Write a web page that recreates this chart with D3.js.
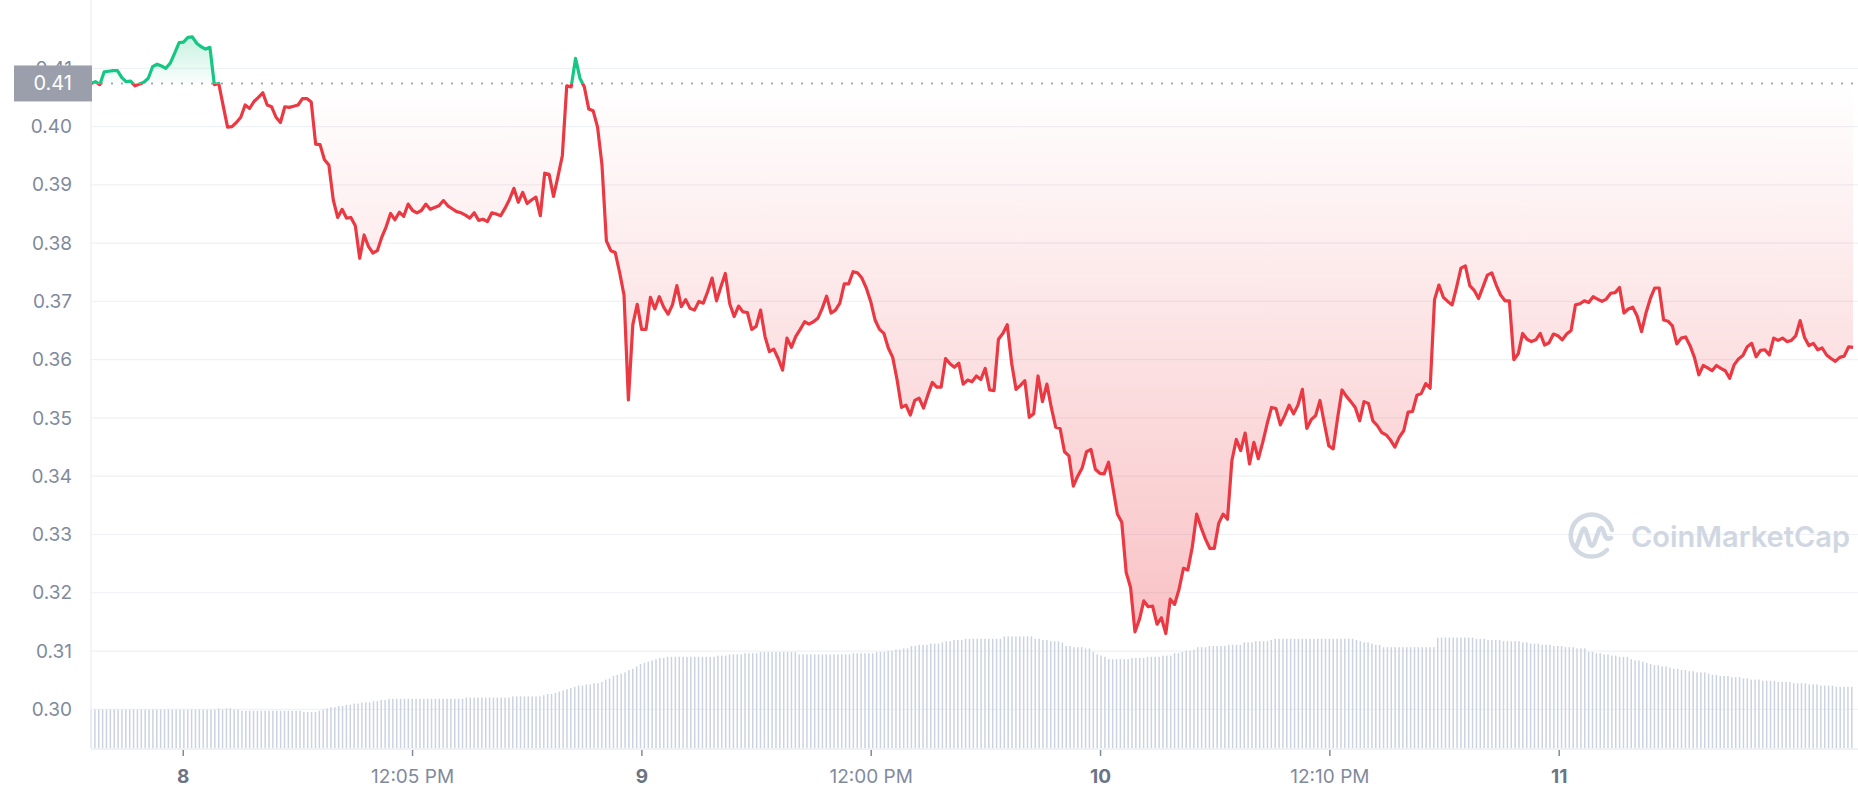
<!DOCTYPE html>
<html><head><meta charset="utf-8">
<script src="https://cdn.jsdelivr.net/npm/d3@7"></script>
<style>html,body{margin:0;padding:0;background:#fff;}svg{display:block;font-family:Inter,"Noto Sans",sans-serif;}</style>
</head><body><svg id="chart" width="1858" height="800"></svg>
<script>
// ---- data ----
// price samples, evenly spaced in time starting at priceStartHour (hours relative to day 8 00:00)
const priceStartHour = -4.8;
const priceStepMin = 13.83;
const prices = [
0.4074,0.4077,0.4072,0.4094,0.4095,0.4096,0.4096,0.4084,0.4077,0.4078,
0.4070,0.4073,0.4076,0.4083,0.4103,0.4107,0.4104,0.4100,0.4109,0.4126,
0.4144,0.4145,0.4153,0.4154,0.4143,0.4137,0.4133,0.4136,0.4072,0.4074,
0.4036,0.3999,0.4000,0.4007,0.4016,0.4037,0.4031,0.4043,0.4050,0.4058,
0.4037,0.4034,0.4016,0.4007,0.4034,0.4033,0.4035,0.4037,0.4048,0.4048,
0.4042,0.3970,0.3969,0.3943,0.3934,0.3874,0.3844,0.3858,0.3843,0.3844,
0.3830,0.3774,0.3814,0.3794,0.3783,0.3787,0.3810,0.3828,0.3851,0.3840,
0.3853,0.3846,0.3867,0.3856,0.3852,0.3856,0.3867,0.3858,0.3861,0.3864,
0.3873,0.3864,0.3859,0.3854,0.3852,0.3848,0.3843,0.3852,0.3839,0.3841,
0.3837,0.3852,0.3850,0.3847,0.3860,0.3875,0.3894,0.3870,0.3887,0.3868,
0.3874,0.3879,0.3847,0.3920,0.3918,0.3880,0.3914,0.3950,0.4070,0.4068,
0.4117,0.4083,0.4068,0.4030,0.4027,0.3999,0.3934,0.3804,0.3787,0.3784,
0.3750,0.3711,0.3531,0.3660,0.3695,0.3652,0.3652,0.3707,0.3687,0.3708,
0.3690,0.3678,0.3694,0.3727,0.3691,0.3703,0.3688,0.3685,0.3700,0.3697,
0.3717,0.3740,0.3701,0.3725,0.3748,0.3696,0.3674,0.3692,0.3682,0.3681,
0.3652,0.3657,0.3685,0.3640,0.3614,0.3618,0.3602,0.3582,0.3637,0.3621,
0.3640,0.3652,0.3665,0.3661,0.3665,0.3671,0.3688,0.3709,0.3680,0.3685,
0.3697,0.3730,0.3730,0.3751,0.3749,0.3740,0.3723,0.3700,0.3668,0.3652,
0.3645,0.3620,0.3604,0.3565,0.3518,0.3522,0.3505,0.3530,0.3534,0.3517,
0.3540,0.3561,0.3553,0.3553,0.3602,0.3593,0.3587,0.3594,0.3558,0.3565,
0.3562,0.3572,0.3566,0.3585,0.3548,0.3547,0.3635,0.3645,0.3660,0.3594,
0.3549,0.3556,0.3564,0.3501,0.3507,0.3572,0.3528,0.3558,0.3518,0.3484,
0.3482,0.3442,0.3435,0.3383,0.3400,0.3414,0.3442,0.3446,0.3412,0.3405,
0.3404,0.3424,0.3380,0.3335,0.3321,0.3235,0.3209,0.3133,0.3154,0.3186,
0.3176,0.3177,0.3146,0.3157,0.3130,0.3189,0.3180,0.3206,0.3242,0.3239,
0.3278,0.3335,0.3312,0.3292,0.3276,0.3276,0.3319,0.3335,0.3326,0.3427,
0.3463,0.3444,0.3474,0.3421,0.3458,0.3430,0.3458,0.3490,0.3518,0.3516,
0.3488,0.3504,0.3522,0.3507,0.3522,0.3549,0.3482,0.3497,0.3504,0.3530,
0.3490,0.3452,0.3447,0.3500,0.3548,0.3537,0.3528,0.3518,0.3495,0.3528,
0.3525,0.3495,0.3487,0.3475,0.3471,0.3462,0.3450,0.3467,0.3478,0.3510,
0.3511,0.3539,0.3542,0.3559,0.3551,0.3703,0.3728,0.3707,0.3700,0.3694,
0.3724,0.3757,0.3761,0.3727,0.3719,0.3705,0.3725,0.3745,0.3749,0.3728,
0.3711,0.3701,0.3701,0.3600,0.3610,0.3645,0.3635,0.3631,0.3634,0.3645,
0.3625,0.3629,0.3644,0.3641,0.3634,0.3644,0.3650,0.3694,0.3696,0.3701,
0.3698,0.3708,0.3704,0.3700,0.3704,0.3714,0.3715,0.3724,0.3680,0.3687,
0.3690,0.3675,0.3648,0.3680,0.3705,0.3723,0.3723,0.3668,0.3666,0.3658,
0.3627,0.3637,0.3639,0.3624,0.3604,0.3574,0.3590,0.3586,0.3581,0.3590,
0.3585,0.3581,0.3568,0.3591,0.3601,0.3607,0.3622,0.3628,0.3605,0.3616,
0.3617,0.3608,0.3637,0.3633,0.3637,0.3631,0.3633,0.3641,0.3667,0.3638,
0.3624,0.3628,0.3617,0.3620,0.3608,0.3602,0.3597,0.3604,0.3606,0.3622,
0.3621
];
// volume bars (relative units), evenly spaced in time
const volumeStartHour = -4.8;
const volumeStepMin = 12.15;
const volumes = [
32,32,32,32,32,32,32,32,32,32,32,32,32,32,32,32,32,32,32,32,32,32,32,32,32,32,32,32,32,32,32,32,32,
33,32,33,33,32,32,31,
31,31,31,31,31,31,31,31,31,31,31,31,31,31,31,
30,30,30,30,
31,32,33,34,34,
35,35,36,36,37,37,38,38,38,39,39,40,40,
41,41,41,41,41,41,41,41,41,41,41,41,41,41,41,41,41,41,41,41,
42,42,42,42,42,42,42,42,42,42,42,42,
43,43,43,43,43,43,43,43,
44,45,45,46,47,48,
49,50,51,52,
52,53,53,54,54,55,
57,58,60,61,62,63,65,
66,68,70,
71,72,73,74,75,75,76,76,
76,76,76,76,76,76,76,76,76,76,76,
77,77,77,78,78,78,78,79,79,79,79,80,
80,80,80,80,80,80,80,80,80,
78,78,78,78,78,78,78,78,
78,78,78,78,78,78,79,79,79,79,79,79,80,80,80,
81,81,82,82,83,83,
85,85,86,86,86,87,87,87,88,
89,89,90,90,90,91,
91,91,91,91,91,91,91,91,91,
93,93,93,93,93,93,93,93,
91,91,90,90,89,89,89,88,
85,85,84,84,84,83,83,
80,78,77,76,
74,74,74,74,74,74,
75,75,75,75,76,76,76,76,77,77,77,
79,79,80,81,81,82,
84,84,84,85,85,85,85,85,86,86,86,86,
88,88,88,89,89,89,89,90,
91,91,91,91,91,91,91,91,91,91,91,91,91,91,91,91,91,91,91,91,91,
90,89,88,88,87,86,86,
84,84,84,84,84,84,84,84,84,84,84,84,84,84,
92,92,92,92,92,92,92,92,92,92,
91,91,91,90,90,90,90,89,89,89,89,89,
88,88,87,87,87,86,86,86,85,85,85,84,84,84,83,83,83,
80,80,79,79,78,78,77,77,76,76,76,
74,73,73,72,71,70,69,69,68,68,
67,66,66,65,65,64,64,63,63,63,62,
61,61,60,60,60,59,59,59,58,58,
57,57,57,56,56,56,56,55,55,55,55,54,54,54,54,53,
53,53,52,52,52,52,51,51,51,51,51
];
const yTicks = [0.30,0.31,0.32,0.33,0.34,0.35,0.36,0.37,0.38,0.39,0.40,0.41];
const xTickHours = [0,12,24,36,48,60,72];
const xTickLabels = ["8","12:05 PM","9","12:00 PM","10","12:10 PM","11"];
const xTickIsDay = [true,false,true,false,true,false,true];
const priceLabel = "0.41";

// ---- drawing ----
const W = 1858, H = 800;
const left = 91, right = 1858, bottom = 748;
const svg = d3.select("#chart");

const priceData = prices.map((p,i)=>({t: priceStartHour + i*priceStepMin/60, p}));
const volData = volumes.map((v,i)=>({t: volumeStartHour + i*volumeStepMin/60, v}));

const x = d3.scaleLinear().domain([-4.8, 87.4]).range([left, 1853]);
const y = d3.scaleLinear().domain([0.30, 0.41]).range([709.3, 68.3]);
const yVol = d3.scaleLinear().domain([0, 100]).range([bottom, 628]);
const basePrice = prices[0];
const yBase = y(basePrice);

const defs = svg.append("defs");
defs.append("clipPath").attr("id","clipUp").append("rect")
  .attr("x",0).attr("y",0).attr("width",W).attr("height",yBase);
defs.append("clipPath").attr("id","clipDown").append("rect")
  .attr("x",0).attr("y",yBase).attr("width",W).attr("height",H-yBase);
const gRed = defs.append("linearGradient").attr("id","gRed")
  .attr("gradientUnits","userSpaceOnUse").attr("x1",0).attr("x2",0)
  .attr("y1",yBase).attr("y2",y(0.3125));
gRed.append("stop").attr("offset",0).attr("stop-color","#ea3943").attr("stop-opacity",0);
gRed.append("stop").attr("offset",1).attr("stop-color","#ea3943").attr("stop-opacity",0.31);
const gGreen = defs.append("linearGradient").attr("id","gGreen")
  .attr("gradientUnits","userSpaceOnUse").attr("x1",0).attr("x2",0)
  .attr("y1",yBase).attr("y2",y(0.4155));
gGreen.append("stop").attr("offset",0).attr("stop-color","#16c784").attr("stop-opacity",0.02);
gGreen.append("stop").attr("offset",1).attr("stop-color","#16c784").attr("stop-opacity",0.24);

// grid lines
svg.append("g").selectAll("line").data(yTicks).join("line")
  .attr("x1",left).attr("x2",right)
  .attr("y1",d=>y(d)).attr("y2",d=>y(d))
  .attr("stroke","#eef1f5").attr("stroke-width",1.2);

// volume bars
svg.append("g").selectAll("rect").data(volData).join("rect")
  .attr("x",d=>x(d.t)-0.75).attr("width",1.5)
  .attr("y",d=>yVol(d.v)).attr("height",d=>bottom-yVol(d.v))
  .attr("fill","#cbd3e1");

// axes lines
svg.append("line").attr("x1",left).attr("x2",left).attr("y1",0).attr("y2",bottom)
  .attr("stroke","#eef1f5").attr("stroke-width",1.5);
svg.append("line").attr("x1",left).attr("x2",right).attr("y1",bottom+1).attr("y2",bottom+1)
  .attr("stroke","#eef1f5").attr("stroke-width",2);

// areas
const area = d3.area().x(d=>x(d.t)).y0(yBase).y1(d=>y(d.p));
svg.append("path").datum(priceData).attr("d",area)
  .attr("fill","url(#gGreen)").attr("clip-path","url(#clipUp)");
svg.append("path").datum(priceData).attr("d",area)
  .attr("fill","url(#gRed)").attr("clip-path","url(#clipDown)");

// baseline dotted
svg.append("line").attr("x1",left).attr("x2",right).attr("y1",yBase).attr("y2",yBase)
  .attr("stroke","#a3a9b5").attr("stroke-width",2).attr("stroke-dasharray","2,8");

// price line
const line = d3.line().x(d=>x(d.t)).y(d=>y(d.p));
svg.append("path").datum(priceData).attr("d",line)
  .attr("fill","none").attr("stroke","#16c784").attr("stroke-width",3.2)
  .attr("stroke-linejoin","round").attr("clip-path","url(#clipUp)");
svg.append("path").datum(priceData).attr("d",line)
  .attr("fill","none").attr("stroke","#ea3943").attr("stroke-width",3.2)
  .attr("stroke-linejoin","round").attr("clip-path","url(#clipDown)");

// y axis labels
const yAxis = svg.append("g").attr("transform",`translate(${left},0)`)
  .call(d3.axisLeft(y).tickValues(yTicks).tickFormat(d3.format(".2f")).tickSize(0).tickPadding(19));
yAxis.select(".domain").remove();
yAxis.selectAll("text").attr("fill","#808a9d").attr("font-size",19)
  .attr("font-family","Inter, 'Noto Sans', sans-serif");

// x axis
const xAxis = svg.append("g").attr("transform",`translate(0,${bottom+1})`)
  .call(d3.axisBottom(x).tickValues(xTickHours).tickFormat((d,i)=>xTickLabels[i]).tickSize(7).tickPadding(14));
xAxis.select(".domain").remove();
xAxis.selectAll(".tick line").attr("stroke","#808a9d").attr("stroke-width",1.5).attr("y1",1);
xAxis.selectAll("text")
  .attr("fill",(d,i)=>xTickIsDay[i]?"#6b7385":"#808a9d")
  .attr("font-weight",(d,i)=>xTickIsDay[i]?700:400)
  .attr("font-size",19)
  .attr("font-family","Inter, 'Noto Sans', sans-serif");

// current price tag
const tag = svg.append("g");
tag.append("rect").attr("x",14).attr("y",yBase-18).attr("width",left-13).attr("height",36)
  .attr("fill","#9a9fab");
tag.append("text").attr("x",left-19).attr("y",yBase).attr("dy","0.35em")
  .attr("text-anchor","end").attr("fill","#ffffff").attr("font-size",20)
  .text(priceLabel);

// watermark
const wm = svg.append("g").attr("fill","none").attr("stroke","#d3d9e3")
  .attr("stroke-width",4.5).attr("stroke-linecap","round").attr("stroke-linejoin","round");
wm.append("path").attr("d","M1607,550 A21,21 0 1 1 1612,530");
wm.append("path").attr("d","M1576,548 L1582,531 Q1584,526 1586,531 L1590,544 Q1592,548 1594,544 L1599,530 Q1601,526 1603,530 L1605,536 Q1607,540 1611,538");
svg.append("text").attr("x",1631).attr("y",547).attr("fill","#d0d7e2")
  .attr("font-size",29).attr("font-weight",600).attr("font-family","Inter, 'Noto Sans', sans-serif")
  .text("CoinMarketCap");
</script>
</body></html>
